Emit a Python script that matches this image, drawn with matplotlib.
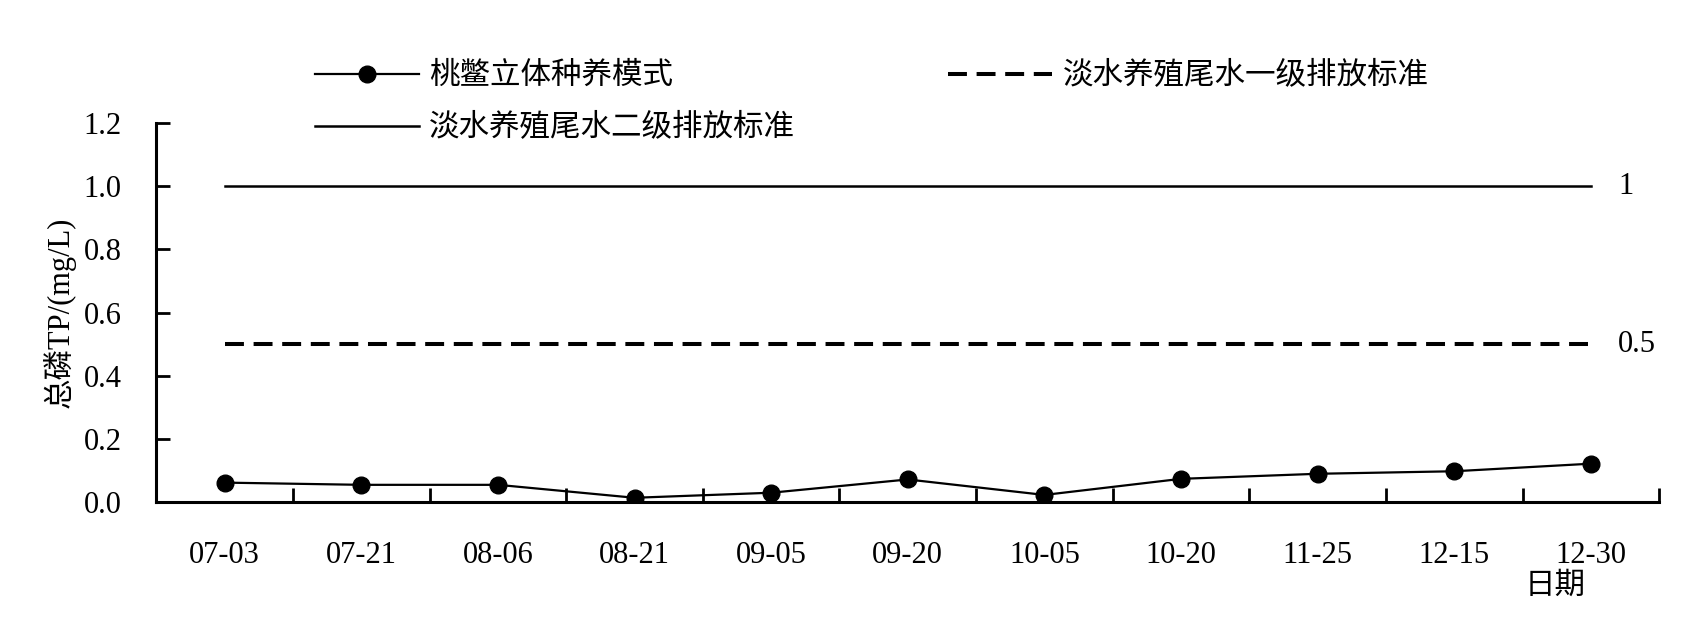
import matplotlib
matplotlib.use('Agg')
import matplotlib.pyplot as plt
import numpy as np

plt.rcParams['font.family'] = ['Liberation Serif', 'Noto Sans CJK SC']
plt.rcParams['axes.unicode_minus'] = False

dates = ['07-03', '07-21', '08-06', '08-21', '09-05', '09-20', '10-05', '10-20', '11-25', '12-15', '12-30']
tp = [0.061, 0.054, 0.054, 0.013, 0.029, 0.071, 0.022, 0.073, 0.089, 0.097, 0.121]
std1 = 0.5   # 一级排放标准
std2 = 1.0   # 二级排放标准
yticks = [0.0, 0.2, 0.4, 0.6, 0.8, 1.0, 1.2]

fs = 22
x = np.arange(len(dates))

fig = plt.figure(figsize=(17, 6.25), dpi=100)
ax = fig.add_axes([0.092, 0.197, 0.884, 0.606])

l1, = ax.plot(x, tp, color='black', lw=1.6, marker='o', markersize=12,
              label='桃鳖立体种养模式')
l2, = ax.plot(x, [std1] * len(x), color='black', lw=2.9, ls=(0, (4.7, 2.4)),
              label='淡水养殖尾水一级排放标准')
l3, = ax.plot(x, [std2] * len(x), color='black', lw=1.8,
              label='淡水养殖尾水二级排放标准')

ax.text(x[-1] + 0.2, std2, '1', fontsize=fs, va='center', ha='left')
ax.text(x[-1] + 0.2, std1, '0.5', fontsize=fs, va='center', ha='left')

ax.set_xlim(-0.5, len(x) - 0.5)
ax.set_ylim(0, 1.2)

# ticks between categories, labels at centres
ax.set_xticks(np.arange(-0.5, len(x), 1.0))
ax.set_xticklabels([])
ax.set_xticks(x, minor=True)
ax.set_xticklabels(dates, minor=True, fontsize=fs)
ax.tick_params(axis='x', which='major', direction='in', length=10, width=2)
ax.tick_params(axis='x', which='minor', length=0, pad=28)

ax.set_yticks(yticks)
ax.set_yticklabels(['%.1f' % v for v in yticks], fontsize=fs)
ax.tick_params(axis='y', direction='in', length=10, width=2, pad=25)

for s in ['top', 'right']:
    ax.spines[s].set_visible(False)
for s in ['left', 'bottom']:
    ax.spines[s].set_linewidth(2.2)

ax.set_ylabel('总磷TP/(mg/L)', fontsize=fs)
ax.yaxis.set_label_coords(-0.054, 0.5)
ax.text(0.931, -0.224, '日期', transform=ax.transAxes, fontsize=fs,
        ha='center', va='center')

fig.legend(handles=[l1, l3, l2], ncol=2, frameon=False, fontsize=fs,
           loc='upper left', bbox_to_anchor=(0.178, 0.92),
           handlelength=3.4, handletextpad=0.35, labelspacing=0.75,
           columnspacing=5.0, borderaxespad=0)

fig.savefig('out.png', dpi=100)
